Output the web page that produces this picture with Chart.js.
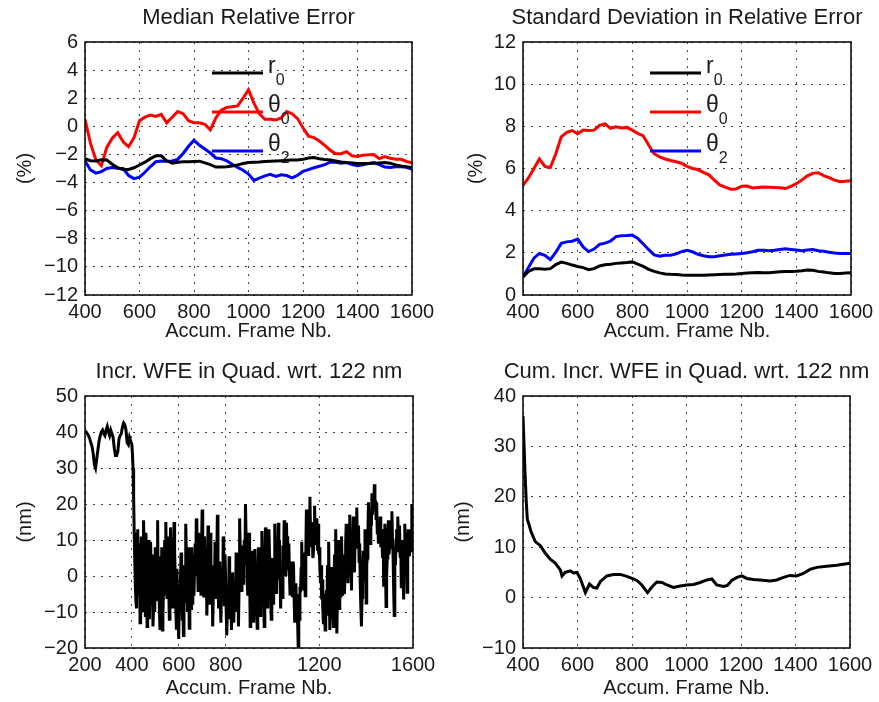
<!DOCTYPE html>
<html>
<head>
<meta charset="utf-8">
<title>Relative error and WFE</title>
<script src="https://cdn.jsdelivr.net/npm/chart.js@4.4.1/dist/chart.umd.min.js"></script>
<style>
  html, body { margin: 0; padding: 0; background: #fff; }
  #wrap { position: relative; width: 879px; height: 702px; overflow: hidden; }
  canvas { position: absolute; }
</style>
</head>
<body>
<div id="wrap">
  <canvas id="c1" width="497" height="345" style="left:0;top:0"></canvas>
  <canvas id="c2" width="494" height="345" style="left:440px;top:0"></canvas>
  <canvas id="c3" width="498" height="357" style="left:0;top:345px"></canvas>
  <canvas id="c4" width="493" height="357" style="left:440px;top:345px"></canvas>
</div>
<script>
// accumulated frame numbers for the two relative error panels
const frames = [400, 420, 440, 460, 480, 500, 520, 540, 560, 580,
  600, 620, 640, 660, 680, 700, 720, 740, 760, 780,
  800, 820, 840, 860, 880, 900, 920, 940, 960, 980,
  1000, 1020, 1040, 1060, 1080, 1100, 1120, 1140, 1160, 1180,
  1200, 1220, 1240, 1260, 1280, 1300, 1320, 1340, 1360, 1380,
  1400, 1420, 1440, 1460, 1480, 1500, 1520, 1540, 1560, 1580, 1600];

const legendNames = ['r', 'θ', 'θ'];
const legendSubs = ['0', '0', '2'];

// median relative error (%)
const medR0 = [-2.3, -2.45, -2.46, -2.38, -2.4, -2.7, -2.95, -3.07, -3.07, -2.95,
  -2.75, -2.55, -2.3, -2.1, -2.1, -2.45, -2.62, -2.55, -2.52, -2.52,
  -2.5, -2.48, -2.6, -2.72, -2.9, -2.9, -2.87, -2.82, -2.74, -2.65,
  -2.57, -2.55, -2.53, -2.5, -2.48, -2.46, -2.44, -2.42, -2.4, -2.39,
  -2.35, -2.25, -2.22, -2.3, -2.36, -2.4, -2.46, -2.53, -2.57, -2.6,
  -2.64, -2.64, -2.64, -2.63, -2.6, -2.57, -2.62, -2.74, -2.82, -2.88, -2.93];
const medT0 = [0.5, -1.2, -2.4, -2.8, -1.5, -0.85, -0.45, -1.1, -1.45, -0.8,
  0.4, 0.65, 0.8, 0.7, 0.85, 0.25, 0.65, 1.05, 0.9, 0.4,
  0.25, 0.25, 0.15, -0.25, 0.6, 1.15, 1.35, 1.4, 1.45, 2.0,
  2.6, 1.65, 0.9, 0.5, 0.5, 0.45, 0.6, 1.05, 0.9, 0.55,
  -0.1, -0.7, -0.8, -1.05, -1.35, -1.7, -1.95, -1.95, -1.8, -2.1,
  -2.15, -2.05, -2.03, -2.0, -2.3, -2.15, -2.27, -2.34, -2.35, -2.5, -2.6];
const medT2 = [-2.45, -3.1, -3.33, -3.22, -3.0, -2.93, -2.98, -3.0, -3.5, -3.72,
  -3.62, -3.27, -2.86, -2.52, -2.46, -2.49, -2.47, -2.35, -1.93, -1.42,
  -0.99, -1.35, -1.62, -1.9, -2.25, -2.3, -2.45, -2.7, -2.92, -3.12,
  -3.4, -3.85, -3.69, -3.52, -3.42, -3.57, -3.45, -3.5, -3.66, -3.48,
  -3.21, -3.08, -2.95, -2.84, -2.72, -2.55, -2.55, -2.62, -2.58, -2.72,
  -2.8, -2.73, -2.64, -2.58, -2.72, -2.9, -2.92, -2.88, -2.88, -2.92, -3.05];

// standard deviation in relative error (%)
const stdR0 = [0.85, 1.12, 1.24, 1.25, 1.22, 1.25, 1.44, 1.56, 1.5, 1.42,
  1.35, 1.3, 1.2, 1.25, 1.38, 1.43, 1.46, 1.5, 1.52, 1.54,
  1.57, 1.46, 1.36, 1.22, 1.12, 1.05, 1.0, 0.98, 0.97, 0.95,
  0.94, 0.94, 0.94, 0.94, 0.95, 0.96, 0.97, 0.98, 0.99, 1.0,
  1.02, 1.04, 1.06, 1.07, 1.06, 1.05, 1.08, 1.1, 1.11, 1.12,
  1.13, 1.15, 1.18, 1.17, 1.12, 1.09, 1.05, 1.02, 1.02, 1.04, 1.05];
const stdT0 = [5.2, 5.55, 6.0, 6.45, 6.1, 6.05, 6.7, 7.5, 7.72, 7.8,
  7.65, 7.82, 7.8, 7.82, 8.05, 8.12, 7.9, 7.98, 7.92, 7.95,
  7.82, 7.66, 7.55, 7.1, 6.7, 6.55, 6.45, 6.38, 6.32, 6.25,
  6.1, 6.0, 5.95, 5.82, 5.7, 5.45, 5.22, 5.12, 5.02, 5.03,
  5.16, 5.17, 5.08, 5.1, 5.12, 5.11, 5.1, 5.09, 5.05, 5.15,
  5.28, 5.45, 5.65, 5.77, 5.8, 5.66, 5.57, 5.45, 5.37, 5.4, 5.42];
const stdT2 = [0.85, 1.3, 1.75, 1.97, 1.88, 1.68, 2.03, 2.45, 2.52, 2.55,
  2.65, 2.28, 2.06, 2.18, 2.4, 2.46, 2.55, 2.77, 2.81, 2.82,
  2.84, 2.68, 2.42, 2.15, 1.9, 1.84, 1.88, 1.89, 1.95, 2.06,
  2.12, 2.05, 1.93, 1.86, 1.81, 1.81, 1.86, 1.9, 1.93, 1.95,
  1.97, 2.0, 2.05, 2.12, 2.12, 2.1, 2.12, 2.16, 2.19, 2.16,
  2.13, 2.1, 2.13, 2.16, 2.1, 2.07, 2.03, 1.99, 1.97, 1.97, 1.97];

// incremental WFE (nm): every 5 frames up to 400, then every 2.5 frames
const incrFrames = [];
for (let f = 200; f <= 400; f += 5) incrFrames.push(f);
for (let f = 402.5; f <= 1600; f += 2.5) incrFrames.push(f);
const incrWfeA = [
  40.3, 40, 39.5, 39, 38.2, 37, 36, 34, 31, 30,
  32.5, 35, 37.5, 39, 40, 40.5, 39.5, 39, 40.5, 41.5,
  40, 39, 40.5, 39.5, 38.5, 35.5, 33.5, 33.5, 34.5, 38,
  39, 39.5, 41.5, 42.5, 42, 40.5, 37, 36.5, 38.5, 37.5,
  36.5];
const incrWfeB = [
  34, 30, 22, 12, 4, -3, -7, -9, 2, 13, -5, 2, 9, -13, -2, 11, 5, -6, -10, 15.5,
  6, -4, -11, 12, 3, -14, -6, 3, 10, -12, -3, 9.5, 1, -8, 6, -14, -9, 4, -10, 8,
  -2, -7, 6, 15.5, -6, 5.5, -9, -15, -5, 2, 8, -15, -11, -4.5, 3, 10, -5, 15, 4, -6,
  3, 11, -4, -12, 1, 13.5, 5, -3, 6, -9, 2, 15, 7, 0, -9, -14.5, 2, -6, -12, -17.5,
  -4, -9, -1, 6.5, -3, -12, -5, -16.5, -8, 3, -7, 14.5, 6, -2, -10, 8, 0, -14.5, -6, -1,
  -9, 8, 1, -8, 5, -5.5, 2, 9, 0, 16, 7, 4, -4, 12, 5, -3, 6, -5.5, 8, 18.5,
  8, 2, -6, 11, 3, -4, 5, -11, -2, 14, 6, 1, -8, 12, 4, -7, 2, -14, -6, 3,
  -5, 9.5, 2, -6, 5, 17, 4, -9, -2, 4, -6, -13, -4, 2, -7, 11, 3, -8, 6, 0,
  -9, -16.5, -10, -6, -12, 5.5, -4, -10, -2, -15, -7, 1, -6, -13, -5, -2, -10, 6.5, -2, -8,
  2, -14, -4, 16, 8, 4, -4, 8.5, 0, -2, 5, 10, 3, 20, 11, 7, -2, -5.5, 3, 12,
  3, -14, -5, 7, -6, 0, -7, -13, -4, 7.5, -1, -3, -9, -14.5, -3, 8, 1, -5.5, -11, 3,
  -4, 12.5, 4, 0, -7, -14, -3, 13.5, 5, 2, -4, -9, 3, 13, 6, 4, -5, -12, -3, 5,
  -3, -8, 4, 14.5, 6, 3, -5, 6.5, -1, 14.8, 5, 10, 1, -9, -2, 2, -6, 8.5, 0, 15.5,
  4, 9, 0, 14.8, 5, 11, 2, 9, 1, -5, 3, 4, -4, -5.5, 4, 3, -6, -13, -5, -2,
  -9, -5, -13, -19.5, -8, -12, -3, -4.5, 2, 9.5, -2, 2, -4, 6.5, 0, -5.5, 6, 18.5, 8, 12,
  6, 15, 9, 22, 12, 15, 8, 13.5, 5, 6.5, 12, 19.5, 9, 10, 16, 13, 7, 14.5, 6, 8,
  2, -2, 3, -6.5, -1, -9, -13, -5, -10, -15, -8, -4, -11, 3, -5, 9.5, -3, -15, -6, 2.5,
  -7, 0, -8, -14, -4, 6, -2, 13, 2, -16, -5, 10, 1, -9, 4, 0, -6, 11, 2, -5.5,
  6, 4, -5, 2, 9, 14.5, 3, 7, -2, 6.5, 12, 17, 8, 4.5, -4, 12, 5, 16.5, 7, 1,
  9, 8, 13, 19, 8, 10, 14, 4, 9, -3, -9, -14, -6, 0, 7, 5.5, -1, 13, 2, -7.5,
  3, 5, 12, 20.5, 11, 14, 9, 18, 14, 23, 17, 22, 19, 25.5, 19, 21, 16, 20.5, 12, 15,
  9, 14.5, 11, 16.5, 8, 13, 10, 5, 12, -3, 6, 14.5, 3, -8.5, 0, 5, 12, 15.5, 6, 8,
  14, 13, 8, 18, 10, 5.5, -4, -11, 4, 3, 10, 13, 7, 16.5, 11, 8, 14, 5.5, 10, -3,
  6, 10, 1, -6.5, 5, 14.5, 10, 7, 12, -4.5, 4, 13, 8, 5.5, 11, 12, 7, 20, 13, 9];
const incrWfe = incrWfeA.concat(incrWfeB);

// cumulative incremental WFE (nm)
const cumFrames = [400, 404, 408, 412, 416, 422, 430, 445, 464, 482,
  500, 519, 537, 543, 555, 574, 586, 598, 610, 629,
  644, 659, 671, 684, 708, 732, 757, 781, 800, 818,
  836, 857, 873, 891, 910, 928, 952, 977, 1001, 1026,
  1050, 1075, 1093, 1111, 1136, 1150, 1166, 1185, 1203, 1221,
  1246, 1270, 1307, 1331, 1356, 1380, 1404, 1429, 1453, 1478,
  1514, 1551, 1600];
const cumWfe = [36, 30, 24, 19, 15.5, 14.5, 13, 11.1, 10.3, 8.8,
  7.6, 6.8, 5.5, 4.3, 5.0, 5.3, 4.9, 5.0, 3.8, 1.0,
  2.7, 2.0, 1.9, 3.2, 4.3, 4.6, 4.6, 4.2, 3.8, 3.4,
  2.5, 1.0, 2.1, 3.1, 3.0, 2.5, 2.0, 2.3, 2.5, 2.6,
  3.0, 3.5, 3.7, 2.5, 2.2, 2.4, 3.4, 4.0, 4.3, 3.8,
  3.6, 3.5, 3.3, 3.5, 4.0, 4.4, 4.3, 4.8, 5.6, 6.0,
  6.2, 6.4, 6.8];

// tick labels
const frameTicks = [400, 600, 800, 1000, 1200, 1400, 1600];
const incrFrameTicks = [200, 400, 600, 800, 1200, 1600];
const medTicks = [-12, -10, -8, -6, -4, -2, 0, 2, 4, 6];
const stdTicks = [0, 2, 4, 6, 8, 10, 12];
const incrTicks = [-20, -10, 0, 10, 20, 30, 40, 50];
const cumTicks = [-10, 0, 10, 20, 30, 40];

const FONT = '"Liberation Sans", Arial, Helvetica, sans-serif';
const INK = '#1a1a1a';
const fmt = v => (v < 0 ? '\u2212' + Math.abs(v) : String(v));
const pts = (xs, ys) => ys.map((y, i) => ({ x: xs[i], y: y }));

const boxPlugin = {
  id: 'box',
  afterDraw(chart) {
    const { ctx, chartArea: a } = chart;
    ctx.save();
    ctx.strokeStyle = '#000';
    ctx.lineWidth = 1.5;
    ctx.strokeRect(a.left, a.top, a.right - a.left, a.bottom - a.top);
    ctx.restore();
  }
};

// legend drawn inside the axes, with subscripts
const subLegend = {
  id: 'subLegend',
  afterDatasetsDraw(chart, args, opts) {
    if (!opts.show) return;
    const { ctx, chartArea: a } = chart;
    chart.data.datasets.forEach((ds, i) => {
      const y = a.top + 31 + i * 39;
      const x0 = a.left + 127, x1 = a.left + 178;
      ctx.save();
      ctx.strokeStyle = ds.borderColor;
      ctx.lineWidth = 3;
      ctx.beginPath();
      ctx.moveTo(x0, y);
      ctx.lineTo(x1, y);
      ctx.stroke();
      ctx.fillStyle = INK;
      ctx.textAlign = 'left';
      ctx.textBaseline = 'alphabetic';
      ctx.font = '23px ' + FONT;
      ctx.fillText(legendNames[i], x1 + 5, y);
      const w = ctx.measureText(legendNames[i]).width;
      ctx.font = '16px ' + FONT;
      ctx.fillText(legendSubs[i], x1 + 5 + w, y + 12);
      ctx.restore();
    });
  }
};

function line(label, color, data) {
  return { label: label, data: data, yAxisID: 'y', borderColor: color, backgroundColor: color,
    borderWidth: 3, pointRadius: 0, tension: 0, fill: false };
}

function makeChart(id, o) {
  const tickFont = { family: FONT, size: 20 };
  return new Chart(document.getElementById(id), {
    type: 'line',
    data: { datasets: o.datasets },
    options: {
      responsive: false,
      animation: false,
      events: [],
      layout: { autoPadding: false, padding: 0 },
      plugins: {
        legend: { display: false },
        tooltip: { enabled: false },
        subLegend: { show: o.legend },
        title: {
          display: true, text: o.title, color: INK,
          font: { family: FONT, size: 22, weight: 'normal' },
          padding: { top: o.titleTop, bottom: o.titleBottom }
        }
      },
      scales: {
        x: {
          type: 'linear', min: o.xTicks[0], max: o.xTicks[o.xTicks.length - 1],
          afterBuildTicks: s => { s.ticks = o.xTicks.map(v => ({ value: v })); },
          afterFit: s => { s.height = o.xHeight; },
          ticks: { autoSkip: false, maxRotation: 0, padding: 5, color: INK, font: tickFont, callback: fmt },
          grid: { color: '#444', lineWidth: 1, drawTicks: false },
          border: { display: false, dash: [2, 6] },
          title: { display: true, text: 'Accum. Frame Nb.', color: INK, font: tickFont,
            padding: { top: 0, bottom: o.xTitleBottom } }
        },
        y: {
          type: 'linear', position: 'left', min: o.yTicks[0], max: o.yTicks[o.yTicks.length - 1],
          afterBuildTicks: s => { s.ticks = o.yTicks.map(v => ({ value: v })); },
          afterFit: s => { s.width = o.yWidth; },
          ticks: { autoSkip: false, padding: 7, color: INK, font: tickFont, callback: fmt },
          grid: { color: '#444', lineWidth: 1, drawTicks: false },
          border: { display: false, dash: [2, 6] },
          title: { display: true, text: o.yTitle, color: INK, font: tickFont,
            padding: { top: o.yTitleTop, bottom: 0 } }
        },
        // empty right-hand axis, as wide as the left one, so the title centres over the plot box
        yPad: {
          type: 'linear', position: 'right',
          afterFit: s => { s.width = o.yWidth; },
          ticks: { display: false },
          grid: { display: false, drawTicks: false },
          border: { display: false },
          title: { display: false }
        }
      }
    },
    plugins: [boxPlugin, subLegend]
  });
}

makeChart('c1', {
  title: 'Median Relative Error', yTitle: '(%)',
  datasets: [
    line(legendNames[0] + legendSubs[0], '#000000', pts(frames, medR0)),
    line(legendNames[1] + legendSubs[1], '#ff0000', pts(frames, medT0)),
    line(legendNames[2] + legendSubs[2], '#0000ff', pts(frames, medT2))
  ],
  legend: true, xTicks: frameTicks, yTicks: medTicks,
  yWidth: 85, xHeight: 50, titleTop: 5, titleBottom: 10.6,
  xTitleBottom: 1.5, yTitleTop: 13
});

makeChart('c2', {
  title: 'Standard Deviation in Relative Error', yTitle: '(%)',
  datasets: [
    line(legendNames[0] + legendSubs[0], '#000000', pts(frames, stdR0)),
    line(legendNames[1] + legendSubs[1], '#ff0000', pts(frames, stdT0)),
    line(legendNames[2] + legendSubs[2], '#0000ff', pts(frames, stdT2))
  ],
  legend: true, xTicks: frameTicks, yTicks: stdTicks,
  yWidth: 83, xHeight: 50, titleTop: 5, titleBottom: 10.6,
  xTitleBottom: 1.5, yTitleTop: 24.7
});

makeChart('c3', {
  title: 'Incr. WFE in Quad. wrt. 122 nm', yTitle: '(nm)',
  datasets: [line('Incr. WFE', '#000000', pts(incrFrames, incrWfe))],
  legend: false, xTicks: incrFrameTicks, yTicks: incrTicks,
  yWidth: 85, xHeight: 54, titleTop: 13.3, titleBottom: 11.3,
  xTitleBottom: 2, yTitleTop: 13
});

makeChart('c4', {
  title: 'Cum. Incr. WFE in Quad. wrt. 122 nm', yTitle: '(nm)',
  datasets: [line('Cum. Incr. WFE', '#000000', pts(cumFrames, cumWfe))],
  legend: false, xTicks: frameTicks, yTicks: cumTicks,
  yWidth: 83, xHeight: 54, titleTop: 13.8, titleBottom: 10.8,
  xTitleBottom: 2, yTitleTop: 11
});
</script>
</body>
</html>
